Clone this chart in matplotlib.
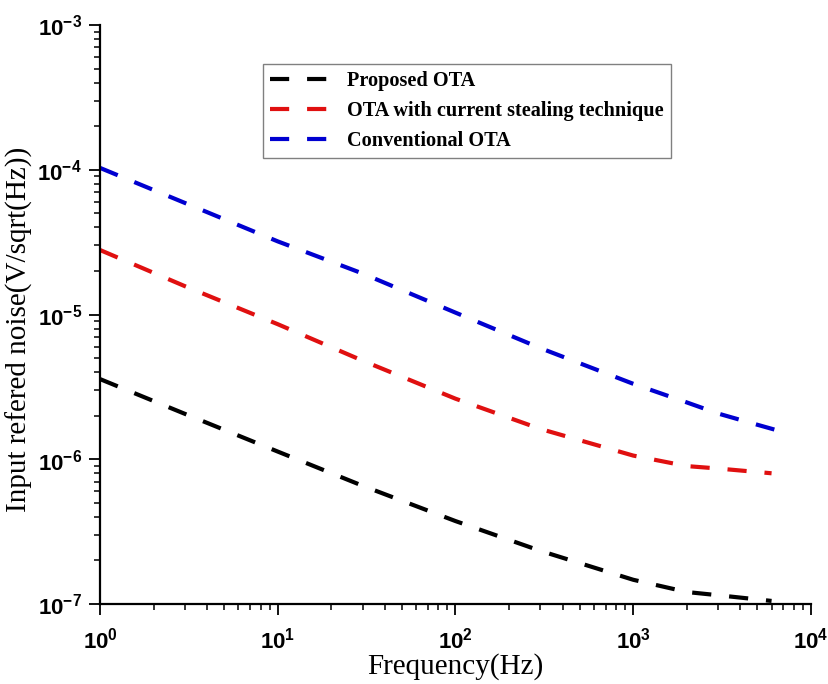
import numpy as np
import matplotlib
matplotlib.use("Agg")
import matplotlib.pyplot as plt
from matplotlib.ticker import LogLocator, FuncFormatter, NullFormatter

# values
freq_prop = [1, 3, 10, 30, 100, 300, 1000, 2000, 3000, 6000]
noise_prop = [3.58e-6, 2.06e-6, 1.13e-6, 6.56e-7, 3.74e-7, 2.33e-7, 1.47e-7, 1.21e-7, 1.15e-7, 1.05e-7]

freq_steal = [1, 3, 10, 30, 100, 300, 1000, 2000, 3000, 6000]
noise_steal = [2.79e-5, 1.57e-5, 8.57e-6, 4.8e-6, 2.62e-6, 1.62e-6, 1.06e-6, 8.97e-7, 8.63e-7, 8.0e-7]

freq_conv = [1, 3, 10, 30, 100, 300, 1000, 2000, 3000, 5000, 7000]
noise_conv = [1.03e-4, 5.9e-5, 3.2e-5, 1.92e-5, 1.03e-5, 5.86e-6, 3.32e-6, 2.47e-6, 2.07e-6, 1.73e-6, 1.54e-6]

labels = ["Proposed OTA", "OTA with current stealing technique", "Conventional OTA"]
colors = ["black", "#e01010", "#0000d0"]

plt.rcParams["mathtext.fontset"] = "custom"
plt.rcParams["mathtext.bf"] = "Liberation Sans:bold"
plt.rcParams["mathtext.rm"] = "Liberation Sans:bold"

fig = plt.figure(figsize=(8.29, 6.84), dpi=100)
ax = fig.add_axes([100 / 829, 1 - 604 / 684, 711 / 829, 579 / 684])

series = [(freq_prop, noise_prop), (freq_steal, noise_steal), (freq_conv, noise_conv)]
for (f, v), lab, c in zip(series, labels, colors):
    ax.plot(f, v, color=c, lw=3, dashes=(4.6, 4.3), label=lab)

ax.set_xscale("log")
ax.set_yscale("log")
ax.set_xlim(1, 1e4)
ax.set_ylim(1e-7, 1e-3)

for s in ["top", "right"]:
    ax.spines[s].set_visible(False)
for s in ["left", "bottom"]:
    ax.spines[s].set_linewidth(1.6)

def fmt(v, pos):
    return r"$\mathbf{10^{%d}}$" % int(round(np.log10(v)))

for axis in (ax.xaxis, ax.yaxis):
    axis.set_major_locator(LogLocator(base=10, numticks=10))
    axis.set_minor_locator(LogLocator(base=10, subs=np.arange(2, 10), numticks=10))
    axis.set_major_formatter(FuncFormatter(fmt))
    axis.set_minor_formatter(NullFormatter())

ax.tick_params(which="major", direction="out", length=8, width=1.3, labelsize=16)
ax.tick_params(axis="x", which="major", pad=8)
ax.tick_params(axis="y", which="major", pad=5)
ax.tick_params(which="minor", direction="out", length=4.5, width=1.1)

ax.set_xlabel("Frequency(Hz)", family="Liberation Serif", fontsize=21)
ax.set_ylabel("Input refered noise(V/sqrt(Hz))", family="Liberation Serif", fontsize=21)
ax.xaxis.set_label_coords(0.4993, -0.085)
ax.yaxis.set_label_coords(-0.094, 0.475)

leg = ax.legend(loc="upper left", bbox_to_anchor=(263 / 829, 1 - 64 / 684),
                bbox_transform=fig.transFigure, borderaxespad=0,
                prop={"family": "Liberation Serif", "weight": "bold", "size": 14.6},
                handlelength=3.6, handletextpad=0.2, labelspacing=0.5,
                fancybox=False, framealpha=1, borderpad=0.35)
leg.get_frame().set_edgecolor("#808080")
leg.get_frame().set_linewidth(1.0)

fig.savefig("out.png", dpi=100)
